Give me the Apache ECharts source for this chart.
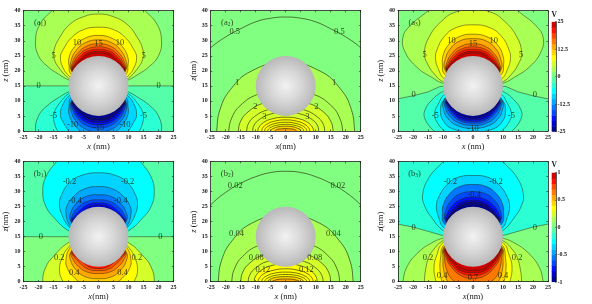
<!DOCTYPE html>
<html><head><meta charset="utf-8">
<style>html,body{margin:0;padding:0;background:#fff}#c{width:592px;height:304px;filter:blur(0.45px)}</style>
<script src="https://cdn.jsdelivr.net/npm/echarts@6/dist/echarts.min.js"></script></head>
<body><div id="c"></div>
<script>
// ---- tick labels / ranges ----
const xTicks = [-25,-20,-15,-10,-5,0,5,10,15,20,25];
const zTicks = [0,5,10,15,20,25,30,35,40];
const barA = [25,12.5,0,-12.5,-25];
const barB = [1,0.5,0,-0.5,-1];
// colour bands, low to high
const palette = ['#00008f','#0000cf','#0010ff','#0048ff','#0078ff','#00a8ff','#00d4ff','#00ffff','#2bffd4','#55ffaa',
                 '#80ff80','#aaff55','#d4ff2b','#ffff00','#ffd400','#ffa800','#ff7800','#ff4800','#ff1000','#cf0000'];
// ---- contours shared in shape near the sphere (x>=0 half, [x,z] in nm) ----
const capUpper = [
 [[0,29],[4,28.2],[7,25.8],[8.6,23],[9,20.2],[6,17]],
 [[0,28],[4,27.2],[6.6,25.2],[8.2,22.7],[8.9,20.2],[6,17]],
 [[0,27.2],[3.8,26.5],[6.2,24.7],[7.9,22.4],[8.8,20.2],[6,17]],
 [[0,26.5],[3.5,25.9],[5.8,24.2],[7.6,22.2],[8.7,20.2],[6,17]],
 [[0,25.9],[3,25.5],[5.4,23.9],[7.3,22],[8.6,20.2],[6,17]]
];
// ---- a1: levels 2.5 ... 25 ----
const a1Bands = [11,12,13,14,15,16,17,18,19,19];
const a1BandsLow = [8,7,6,5,4,3,2,1,0,0];
const a1Curves = [
 [[0,46],[10,45],[15.5,40],[19.5,35.5],[21,30],[20,25],[17,21.5],[13,18.7],[10,17],[7,16]],
 [[0,38.9],[5,38],[9.5,35.5],[13,31],[14.8,27],[14.8,24],[12.8,20.5],[10,17.6],[7,16]],
 [[0,34.5],[5,33.7],[9,31],[11.8,27],[12.7,24.5],[11.8,21],[9.8,18.3],[7,16.5]],
 [[0,31.8],[5,30.6],[8,28],[9.8,24.5],[9.8,21.5],[9.3,19],[6,17]],
 [[0,30.3],[4.5,29.3],[7.5,26.7],[9.1,23.5],[9.2,20.5],[6,17]],
 ...capUpper
];
const a1Zero = [[-30,15],[30,15],[30,-5],[-30,-5]];
const a1Labels = [[-20,15,'0'],[20,15,'0'],[-15,25,'5'],[15,25,'5'],[-7.2,29.5,'10'],[7.2,29.5,'10'],[0,29,'15'],
 [-15,5,'-5'],[15,5,'-5'],[-8.6,2,'-10'],[8.8,2,'-10'],[0,1,'-15']];
// ---- a2: levels 0.5 ... 6 ----
const a2Bands = [10,11,11,12,12,12,13,13,13,13,14,15];
const a2Curves = [
 [[0,37.9],[5,37.5],[10,36.3],[15,34],[20,31.3],[25,27.7],[30,23],[33,15],[35,0],[35,-3]],
 [[0,23],[11.5,19.9],[18.4,13.8],[21.9,7.1],[23,0],[23,-3]],
 [[0,14],[9.5,12.1],[15.2,8.4],[18,4.3],[19,0],[19,-3]],
 [[0,10.5],[7.9,9.1],[12.6,6.3],[15,3.3],[15.8,0],[15.8,-3]],
 [[0,8],[6.5,6.9],[10.4,4.8],[12.4,2.5],[13,0],[13,-3]],
 [[0,6.3],[5.5,5.5],[8.8,3.8],[10.5,2],[11,0],[11,-3]],
 [[0,4.6],[4.7,4],[7.4,2.8],[8.8,1.4],[9.3,0],[9.3,-3]],
 [[0,3.7],[4,3.2],[6.4,2.2],[7.6,1.1],[8,0],[8,-3]],
 [[0,2.9],[3.5,2.5],[5.6,1.7],[6.7,0.9],[7,0],[7,-3]],
 [[0,2.2],[3,1.9],[4.8,1.3],[5.7,0.7],[6,0],[6,-3]],
 [[0,1.6],[2.5,1.4],[4,0.9],[4.8,0.5],[5,0],[5,-3]],
 [[0,0.8],[1.8,0.7],[2.9,0.5],[3.4,0.2],[3.6,0],[3.6,-3]]
];
const a2Labels = [[-17,33.1,'0.5'],[17.9,33.1,'0.5'],[-16.2,16.2,'1'],[16.1,16.2,'1'],[-10.1,8.1,'2'],[10.2,8.1,'2'],[-7.1,4.6,'3'],[7.2,4.6,'3']];
// ---- a3 ----
const a3Bands = [11,12,13,14,15,16,17,18,19,19];
const a3BandsLow = [8,7,6,5,4,3,2,1,0];
const a3Curves = [
 [[0,47],[9,46],[15,40],[21,35],[23.4,31],[22.5,26],[18.5,21],[14,18],[10.4,16],[7,15.5]],
 [[0,40.3],[6,39.5],[10.5,36.5],[14.5,31.5],[16.2,26],[15,22],[12.5,18.5],[10.2,16.5],[7,15.5]],
 [[0,35.3],[5.5,34.4],[9.5,31.5],[12,27],[12.5,24],[11.5,20.5],[9.8,17.5],[7,16]],
 [[0,32.2],[5,31.2],[8.3,28.5],[10,25],[10.2,22],[9.6,19],[6,17]],
 [[0,30.7],[4.5,29.9],[7.6,27.3],[9.2,24],[9.4,20.5],[6,17]],
 ...capUpper
];
const a3Zero = [[-30,9.7],[-25,10.7],[-20,11.7],[-15,13],[-11,14.8],[0,15],[11,14.8],[15,13],[20,11.7],[25,10.7],[30,9.7],[30,-5],[-30,-5]];
const a3CurvesLow = [
 [[0,-5],[9,-3],[13,0],[16,4],[16,7],[13.5,10.5],[10.3,13],[7,14]],
 [[0,-1.5],[7,-1],[9.5,0],[12.3,3.5],[12.8,6],[11.3,9.5],[9.7,12],[6,14]],
 [[0,-0.3],[7,0.8],[10,3.5],[10.8,6.5],[10,10],[6,13]],
 [[0,0.9],[5,1.7],[8.3,4],[9.8,7],[9.8,10],[6,13]],
 [[0,1.9],[4.5,2.6],[7.8,5],[9.3,8],[9.5,10.5],[6,13]],
 [[0,2.6],[4.2,3.3],[7.3,5.7],[8.9,8.3],[9.2,10],[6,13]],
 [[0,3.2],[4,3.8],[6.8,6],[8.5,8.4],[9,10],[6,13]],
 [[0,3.7],[3.6,4.2],[6.2,6.1],[8.1,8.3],[8.9,10],[6,13]],
 [[0,4.2],[3,4.7],[5.6,6.2],[7.7,8.2],[8.8,10],[6,13]]
];
const a3Labels = [[-16.1,25.3,'5'],[16,25.3,'5'],[-7.2,30.1,'10'],[6.9,30.1,'10'],[0,28.9,'15'],[-19.8,12,'0'],[20.6,12,'0'],
 [-12.6,5,'-5'],[12.8,5,'-5'],[0,0.9,'-10']];
// ---- b1: levels 0.1 ... 0.7 ----
const b1Bands = [7,6,5,4,3,2,1];
const b1BandsLow = [12,13,14,15,16,17,18];
const b1Curves = [
 [[0,48],[9,46],[14,40],[17.5,35],[18.6,30],[17.5,25],[14.5,21],[10.5,17.3],[7,16]],
 [[0,36.3],[5.5,35.5],[9.7,33],[12.3,29],[13,26],[12.3,22.5],[10,18.5],[7,16.5]],
 [[0,31.7],[5,30.8],[8.7,28],[10.6,25],[10.8,22.5],[9.7,19],[7,17]],
 [[0,29],[4.5,28.3],[7.5,26],[9.2,23.2],[9.4,20.5],[6,17]],
 [[0,27.3],[4,26.7],[6.8,24.8],[8.5,22.5],[9.1,20.2],[6,17]],
 [[0,26.3],[3.5,25.8],[6,24],[7.9,22],[8.9,20.2],[6,17]],
 [[0,25.6],[2.8,25.2],[5,23.7],[7.3,21.9],[8.7,20.2],[6,17]]
];
const b1Labels = [[-9.7,33.2,'-0.2'],[9.7,33.2,'-0.2'],[-7.8,27.1,'-0.4'],[7.4,27.1,'-0.4'],[-19.2,14.9,'0'],[20.6,14.9,'0'],
 [-13.1,8.1,'0.2'],[12.8,8.1,'0.2'],[-8.1,3,'0.4'],[8,3,'0.4']];
// ---- b2: levels 0.02 ... 0.22 ----
const b2Bands = [10,11,11,12,12,13,13,13,13,14,15];
const b2Curves = [
 [[0,36.8],[5,36.4],[10,35],[15,32.8],[20,29.8],[25,25.6],[29,21],[33,12],[35,0],[35,-3]],
 [[0,22.5],[11.3,19.5],[18,13.5],[21.4,7],[22.5,0],[22.5,-3]],
 [[0,14],[9,12.1],[14.4,8.4],[17.1,4.3],[18,0],[18,-3]],
 [[0,10.3],[7.5,8.9],[12,6.2],[14.3,3.2],[15,0],[15,-3]],
 [[0,7.7],[6.3,6.7],[10,4.6],[11.9,2.4],[12.5,0],[12.5,-3]],
 [[0,6],[5.3,5.2],[8.4,3.6],[10,1.9],[10.5,0],[10.5,-3]],
 [[0,4.3],[4.6,3.7],[7.4,2.6],[8.7,1.3],[9.2,0],[9.2,-3]],
 [[0,3.2],[4,2.8],[6.4,1.9],[7.6,1],[8,0],[8,-3]],
 [[0,2.4],[3.5,2.1],[5.6,1.4],[6.7,0.7],[7,0],[7,-3]],
 [[0,1.7],[3,1.5],[4.8,1],[5.7,0.5],[6,0],[6,-3]],
 [[0,0.9],[2.3,0.8],[3.6,0.5],[4.3,0.3],[4.5,0],[4.5,-3]]
];
const b2Labels = [[-16.8,32.1,'0.02'],[17.4,32.1,'0.02'],[-16.4,16,'0.04'],[15.9,16,'0.04'],[-9.8,8.1,'0.08'],[9.7,8.1,'0.08'],[-7.6,4.1,'0.12'],[6.9,4.1,'0.12']];
// ---- b3 ----
const b3Bands = [7,6,4,3,2,1,0,0];
const b3BandsLow = [11,12,13,14,15,16,17,18,19,19];
const b3Curves = [
 [[0,46],[6,45],[10,40],[14.5,35],[16.8,29],[16,25],[13.5,21],[10.3,17.3],[7,16]],
 [[0,35.4],[5,34.8],[8.5,32.5],[11.3,28.5],[12.2,25],[11.3,21],[9.8,18],[6,16.5]],
 [[0,32.4],[4.5,31.7],[7.8,29.3],[9.8,26],[10.2,23],[9.7,19.5],[6,17]],
 [[0,30],[4.3,29.3],[7.3,27],[9,24],[9.3,20.5],[6,17]],
 [[0,28.2],[4,27.5],[6.8,25.5],[8.5,23],[9.1,20.3],[6,17]],
 [[0,27.2],[3.8,26.5],[6.2,24.7],[7.9,22.4],[8.8,20.2],[6,17]],
 [[0,26.5],[3.5,25.9],[5.8,24.2],[7.6,22.2],[8.7,20.2],[6,17]],
 [[0,25.9],[3,25.5],[5.4,23.9],[7.3,22],[8.6,20.2],[6,17]]
];
const b3Zero = [[-30,20.2],[-25,19.2],[-20,18.2],[-15,16.8],[-10.5,15.5],[0,15],[10.5,15.5],[15,16.8],[20,18.2],[25,19.2],[30,20.2],[30,-5],[-30,-5]];
const b3CurvesLow = [
 [[0,-8],[14,-7],[24,-4],[23.4,0],[22,5],[18,10],[14,12.8],[10.4,14.4],[7,15]],
 [[0,-6],[13,-5],[16,-2],[16.2,0],[15.8,4],[14.8,8],[13.3,10.5],[10.3,13.5],[7,14.5]],
 [[0,-5],[11,-3],[12.3,0],[13,5],[12,9],[10.2,12.8],[6,14]],
 [[0,-3],[9,-2],[10.3,0],[11,4],[10.8,8],[9.9,12],[6,14]],
 [[0,-2],[7,-1],[8.4,0],[9.8,4],[10,8],[9.7,11.5],[6,13]],
 [[0,-0.8],[4,-0.3],[6.8,0.6],[8.8,4],[9.5,8],[9.5,11.5],[6,13]],
 [[0,1.1],[4,2],[7.3,5],[9,8],[9.5,11],[6,13]],
 [[0,2.1],[4,2.9],[7,5.5],[8.8,8.5],[9.3,11],[6,13]],
 [[0,3],[3.8,3.6],[6.5,5.8],[8.5,8.8],[9.2,11],[6,13]],
 [[0,3.8],[3.5,4.3],[6,6.2],[8.2,9],[9.1,11],[6,13]]
];
const b3Labels = [[-7.6,33.2,'-0.2'],[7.7,33.2,'-0.2'],[0.4,29.1,'-0.4'],[-19.8,17.9,'0'],[20.6,17.9,'0'],[-15,8.1,'0.2'],[14.7,8.1,'0.2'],
 [-10.3,2.1,'0.4'],[10,2.1,'0.4'],[0,1.3,'0.7']];
// ---- sphere, in nm ----
const sphere = {x:0, z:15, r:10};

// mirror an x>=0 half contour across x=0 into a closed outline
const closeHalf = h => h.concat(h.slice(1).reverse().map(([x,z]) => [-x,z]));
const flipZ = h => h.map(([x,z]) => [x,30-z]);
const layersOf = (curves, bands) => curves.map((h,i) => ({pts: closeHalf(h), band: bands[i], smooth: 0.45}));

const panels = [
 {tag:'a', sub:'1', left:23.5, top:10.7, h:120.3, bg:10, zero:a1Zero, zeroBand:9,
  layers:[...layersOf(a1Curves,a1Bands), ...layersOf(a1Curves.map(flipZ),a1BandsLow)], labels:a1Labels, xn:'{i|x} (nm)', zn:'{i|z} (nm)'},
 {tag:'a', sub:'2', left:210.7, top:10.7, h:120.3, bg:10,
  layers:layersOf(a2Curves,a2Bands), labels:a2Labels, xn:'{i|x}(nm)', zn:'{i|z}(nm)', lw:0.65},
 {tag:'a', sub:'3', left:398, top:10.7, h:120.3, bg:10, zero:a3Zero, zeroBand:9,
  layers:[...layersOf(a3Curves,a3Bands), ...layersOf(a3CurvesLow,a3BandsLow)], labels:a3Labels, xn:'{i|x} (nm)', zn:'{i|z} (nm)'},
 {tag:'b', sub:'1', left:23.5, top:161.7, h:120, bg:9, zero:a1Zero, zeroBand:10,
  layers:[...layersOf(b1Curves,b1Bands), ...layersOf(b1Curves.map(flipZ),b1BandsLow)], labels:b1Labels, xn:'{i|x}(nm)', zn:'{i|z}(nm)'},
 {tag:'b', sub:'2', left:210.7, top:161.7, h:120, bg:10,
  layers:layersOf(b2Curves,b2Bands), labels:b2Labels, xn:'{i|x} (nm)', zn:'{i|z} (nm)', lw:0.65},
 {tag:'b', sub:'3', left:398, top:161.7, h:120, bg:8, zero:b3Zero, zeroBand:10,
  layers:[...layersOf(b3Curves,b3Bands), ...layersOf(b3CurvesLow,b3BandsLow)], labels:b3Labels, xn:'{i|x}(nm)', zn:'{i|z}(nm)'}
];

const serif = '"Liberation Serif","DejaVu Serif",serif';
const ink = '#1a1a1a';
const tickFont = {fontFamily:serif, fontSize:6, fontWeight:'bold', color:ink};
const nameRich = {i:{fontFamily:serif, fontStyle:'italic', fontSize:8.5, color:ink}};
const grids=[], xAxes=[], yAxes=[], series=[];

function addAxisPair(gi, p){
  const base = {gridIndex:gi, type:'value', z:5,
    axisLine:{onZero:false, lineStyle:{color:ink,width:0.8}}, splitLine:{show:false},
    axisTick:{inside:true,length:1.6,lineStyle:{color:ink,width:0.6}}};
  xAxes.push({...base, position:'bottom', min:-25, max:25, interval:5,
    axisLabel:{...tickFont, margin:3, formatter:v=>String(v), hideOverlap:false, showMinLabel:true, showMaxLabel:true},
    name:p.xn, nameLocation:'middle', nameGap:11,
    nameTextStyle:{fontFamily:serif, fontSize:8.5, color:ink, rich:nameRich}});
  yAxes.push({...base, position:'left', min:0, max:40, interval:5,
    axisLabel:{...tickFont, margin:3, formatter:v=>String(v)},
    name:p.zn, nameLocation:'middle', nameGap:8,
    nameTextStyle:{fontFamily:serif, fontSize:8.5, color:ink, rich:nameRich}});
  xAxes.push({...base, position:'top', min:-25, max:25, interval:5, axisLabel:{show:false}});
  yAxes.push({...base, position:'right', min:0, max:40, interval:5, axisLabel:{show:false}});
}

panels.forEach((p,k)=>{
  grids.push({left:p.left, top:p.top, width:150, height:p.h, show:true, backgroundColor:palette[p.bg], borderWidth:0, containLabel:false});
  addAxisPair(k,p);
  const xi=k*2, yi=k*2;
  const layers = [];
  if(p.zero) layers.push({pts:p.zero, band:p.zeroBand, smooth:0});
  layers.push(...p.layers);
  const lw = p.lw || 0.5;
  series.push({type:'custom', xAxisIndex:xi, yAxisIndex:yi, clip:true, silent:true, z:2,
    data:layers.map((l,i)=>[i]), encode:{x:[],y:[]},
    renderItem:(params,api)=>{
      const l=layers[api.value(0)];
      return {type:'polygon', shape:{points:l.pts.map(q=>api.coord(q)), smooth:l.smooth},
        style:{fill:palette[l.band], stroke:'#2b2b10', lineWidth:lw}};
    }});
  series.push({type:'custom', xAxisIndex:xi, yAxisIndex:yi, silent:true, z:3, data:[[sphere.x,sphere.z,sphere.r]],
    renderItem:(params,api)=>{
      const c=api.coord([api.value(0),api.value(1)]);
      const r=api.size([api.value(2),0])[0];
      return {type:'circle', shape:{cx:c[0],cy:c[1],r:r},
        style:{fill:new echarts.graphic.RadialGradient(0.5,0.5,0.5,[{offset:0,color:'#f2f2f2'},{offset:0.5,color:'#d8d8d8'},{offset:1,color:'#b8b8b8'}]), stroke:null}};
    }});
  series.push({type:'scatter', xAxisIndex:xi, yAxisIndex:yi, silent:true, z:4, symbolSize:0, data:p.labels,
    label:{show:true, position:'inside', formatter:o=>o.data[2], fontFamily:serif, fontSize:8.5, color:'#151505'}});
  series.push({type:'scatter', xAxisIndex:xi, yAxisIndex:yi, silent:true, z:4, symbolSize:0, data:[[-19.5,36]],
    label:{show:true, position:'inside', formatter:()=>`(${p.tag}{s|${p.sub}})`, fontFamily:serif, fontSize:8.5, color:'#151505',
      rich:{s:{fontFamily:serif, fontSize:5.5, verticalAlign:'bottom', padding:[4,0,0,0], color:'#151505'}}}});
});

// colour bars
const bars=[{top:21.7,h:110,max:25,int:12.5,ticks:barA},{top:172.5,h:109.5,max:1,int:0.5,ticks:barB}];
bars.forEach((b,i)=>{
  const g=grids.length;
  grids.push({left:551.7, top:b.top, width:4.4, height:b.h, show:false, containLabel:false});
  const xi=xAxes.length;
  xAxes.push({gridIndex:g, type:'value', min:0, max:1, show:false});
  yAxes.push({gridIndex:g, type:'value', position:'right', min:-b.max, max:b.max, interval:b.int, z:5,
    axisLine:{show:true,onZero:false,lineStyle:{color:ink,width:0.7}}, splitLine:{show:false},
    axisTick:{inside:true,length:1.2,lineStyle:{color:ink,width:0.5}},
    axisLabel:{...tickFont, margin:1.5, formatter:v=>String(v)},
    name:'V', nameLocation:'end', nameGap:3, nameTextStyle:{fontFamily:serif, fontSize:7.5, fontWeight:'bold', color:ink, align:'center', padding:[0,4,0,0]}});
  const step=2*b.max/palette.length;
  series.push({type:'custom', xAxisIndex:xi, yAxisIndex:xi, silent:true, z:2, clip:true,
    data:palette.map((c,j)=>[j]),
    encode:{x:[],y:[]},
    renderItem:(params,api)=>{
      const j=api.value(0);
      const p0=api.coord([0,-b.max+step*j]), p1=api.coord([1,-b.max+step*(j+1)]);
      return {type:'rect', shape:{x:p0[0],y:p1[1],width:p1[0]-p0[0],height:p0[1]-p1[1]+0.5}, style:{fill:palette[j]}};
    }});
});

const chart=echarts.init(document.getElementById('c'),null,{renderer:'canvas'});
chart.setOption({animation:false, backgroundColor:'#fff', grid:grids, xAxis:xAxes, yAxis:yAxes, series, tooltip:{show:false}});
</script></body></html>
